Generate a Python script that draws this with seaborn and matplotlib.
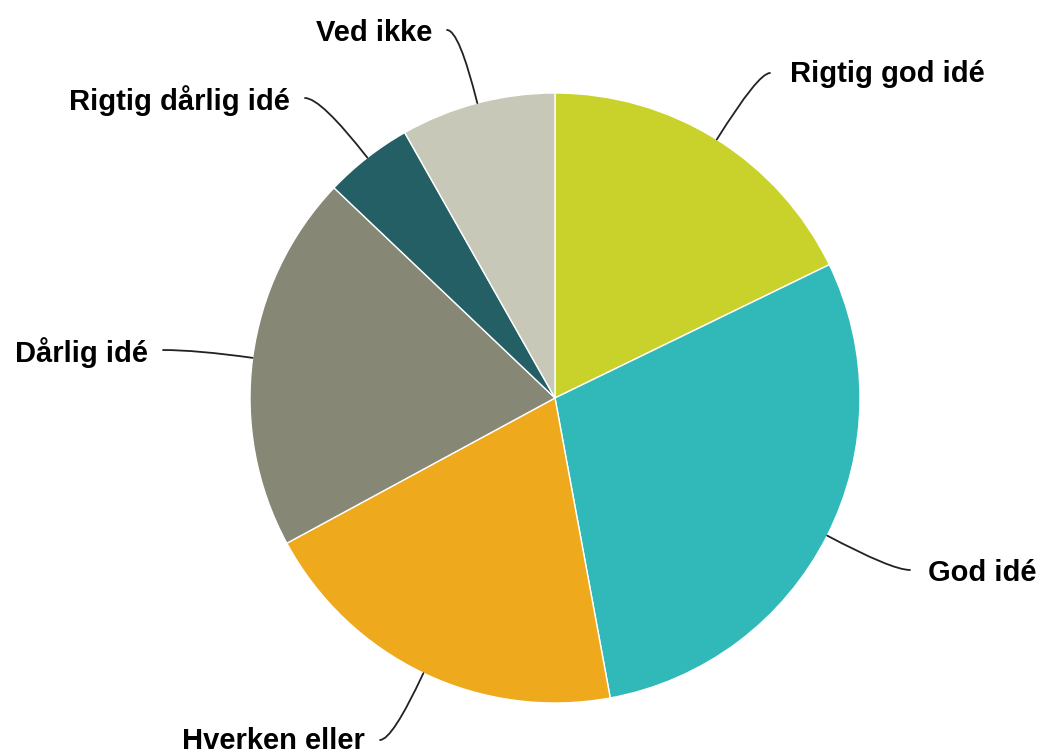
import numpy as np
import matplotlib
matplotlib.use("Agg")
import matplotlib.pyplot as plt
import seaborn as sns

# Data (share in percent), clockwise from 12 o'clock
labels = ["Rigtig god idé", "God idé", "Hverken eller", "Dårlig idé",
          "Rigtig dårlig idé", "Ved ikke"]
values = [17.8, 29.3, 20.0, 20.0, 4.7, 8.2]
colors = ["#c9d22a", "#31b8b8", "#eea91d", "#878776", "#255f66", "#c8c8b8"]

sns.set_theme(style="white")
plt.rcParams['font.family'] = ['Liberation Sans', 'DejaVu Sans']

W, H = 1038, 755
fig = plt.figure(figsize=(W / 100, H / 100), dpi=100)
ax = fig.add_axes([0, 0, 1, 1])

cx, cy, r = 555, H - 398, 305
wedges, _ = ax.pie(values, colors=colors, startangle=90, counterclock=False,
                   center=(cx, cy), radius=r,
                   wedgeprops=dict(edgecolor="white", linewidth=1))

# label layout: text anchor (x, baseline y in pixels from top), alignment,
# start of leader line, leader angle at the pie end
layout = {
    "Rigtig god idé":    ((790, 82), "left", (770, 73), 58),
    "God idé":           ((928, 581), "left", (910, 570), -28),
    "Hverken eller":     ((365, 749), "right", (380, 740), -115),
    "Dårlig idé":        ((148, 362), "right", (163, 350), 172),
    "Rigtig dårlig idé": ((290, 110), "right", (305, 98), 128),
    "Ved ikke":          ((432, 41), "right", (447, 30), 104),
}

for w, lab in zip(wedges, labels):
    (tx, ty), ha, (lx, ly), angb = layout[lab]
    mid = np.deg2rad((w.theta1 + w.theta2) / 2)
    ex, ey = cx + r * np.cos(mid), cy + r * np.sin(mid)
    ax.text(tx, H - ty, lab, ha=ha, va="baseline", fontsize=21,
            fontweight="bold", color="black")
    ax.annotate("", xy=(ex, ey), xytext=(lx, H - ly),
                arrowprops=dict(arrowstyle="-", color="#222222", lw=1.3,
                                shrinkA=0, shrinkB=0,
                                connectionstyle=f"angle3,angleA=0,angleB={angb}"))

ax.set_xlim(0, W)
ax.set_ylim(0, H)
ax.set_aspect("equal")
ax.axis("off")

fig.savefig("out.png", dpi=100, facecolor="white")
